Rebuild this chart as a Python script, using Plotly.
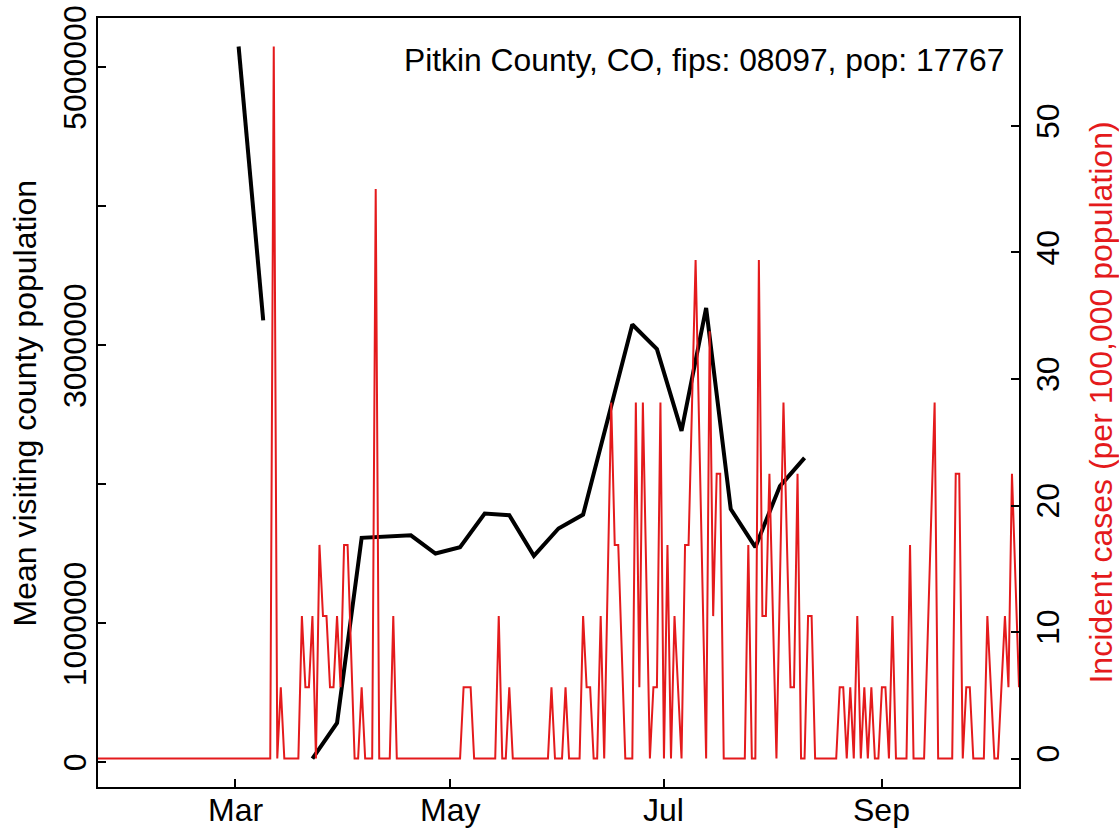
import pandas as pd
import plotly.graph_objects as go

# ---------------- data ----------------
county_label = "Pitkin County, CO, fips: 08097, pop: 17767"
population = 17767

# daily incident case counts, 2020-01-22 .. 2020-10-10 (None = day not reported)
cases_jan = [0] * 10
cases_feb = [0] * 29
cases_mar = [0, 0, 0, 0, 0, 0, 0, 0, 0, 0, 0, 10, 0, 1, 0, 0, 0, 0, 0, 2,
             1, 1, 2, 0, 3, 2, 2, 1, 1, 2, 1]
cases_apr = [3, 3, None, 0, 0, 1, 0, 0, 0, 8, 0, 0, 0, 0, 2, 0, 0, 0, 0, 0,
             0, 0, 0, 0, 0, 0, 0, 0, 0, 0]
cases_may = [0, 0, 0, 0, 1, 1, 1, 0, 0, 0, 0, 0, 0, 0, 2, 0, 0, 1, 0, 0,
             0, 0, 0, 0, 0, 0, 0, 0, 0, 1, 0]
cases_jun = [0, 0, 1, 0, 0, 0, 0, 2, 1, 1, 0, 0, 2, 0, None, 5, 3, 3, None, 0,
             0, 0, 5, 1, 5, None, 0, 1, 1, 5]
cases_jul = [0, 3, 0, 2, 1, 0, 3, 3, 5, 7, None, None, 0, 6, 2, 4, 4, 0, 0, 0,
             0, 0, 0, 0, 3, 0, 0, 7, 2, 2, 4]
cases_aug = [2, 0, None, 5, 3, 1, 1, 4, 0, 0, 2, 2, 0, 0, 0, 0, 0, 0, 0, 1,
             1, 0, 1, 0, 2, 0, 1, 0, 1, 0, 0]
cases_sep = [1, 1, 0, 2, 0, 0, 0, 0, 3, 0, 0, 0, 0, None, None, 5, 0, 0, 0, 0,
             0, 4, 4, 0, 1, 1, 0, 0, 0, 0]
cases_oct = [2, 1, 0, 0, 1, 2, 1, 4, None, 1]

# weekly mean visiting county population
visit_dates = ["2020-03-02", "2020-03-09", "2020-03-16", "2020-03-23", "2020-03-30",
               "2020-04-06", "2020-04-20", "2020-04-27", "2020-05-04", "2020-05-11",
               "2020-05-18", "2020-05-25", "2020-06-01", "2020-06-08", "2020-06-22",
               "2020-06-29", "2020-07-06", "2020-07-13", "2020-07-20", "2020-07-27",
               "2020-08-03", "2020-08-10"]
visit_pop = [5147000, 3178000, None, 27000, 283000,
             1614000, 1632000, 1501000, 1547000, 1789000,
             1777000, 1484000, 1681000, 1781000, 3148000,
             2971000, 2383000, 3267000, 1820000, 1547000,
             1986000, 2189000]

x_ticks = ["2020-03-01", "2020-05-01", "2020-07-01", "2020-09-01"]
x_tick_text = ["Mar", "May", "Jul", "Sep"]
left_ticks = [0, 1000000, 2000000, 3000000, 4000000, 5000000]
left_tick_text = ["0", "1000000", "", "3000000", "", "5000000"]
right_ticks = [0, 10, 20, 30, 40, 50]

# ---------------- build ----------------
cases = (cases_jan + cases_feb + cases_mar + cases_apr + cases_may + cases_jun
         + cases_jul + cases_aug + cases_sep + cases_oct)
case_dates = pd.date_range("2020-01-22", periods=len(cases), freq="D")
incidence = [None if c is None else c * 1e5 / population for c in cases]

RED = "#E41A1C"
FONT = "Liberation Sans, Arial, Helvetica, sans-serif"
FS = 32


def padded(lo, hi, f=0.04):
    r = hi - lo
    return [lo - f * r, hi + f * r]


vp = [v for v in visit_pop if v is not None]
inc = [v for v in incidence if v is not None]

fig = go.Figure()
fig.add_trace(go.Scatter(x=visit_dates, y=visit_pop, mode="lines",
                         line=dict(color="black", width=4), connectgaps=False,
                         yaxis="y", showlegend=False))
fig.add_trace(go.Scatter(x=case_dates, y=incidence, mode="lines",
                         line=dict(color=RED, width=2), connectgaps=True,
                         yaxis="y2", showlegend=False))

axis_common = dict(showgrid=False, zeroline=False, showline=True, linecolor="black",
                   linewidth=2, ticks="inside", ticklen=8, tickwidth=2,
                   tickcolor="black", automargin=False,
                   tickfont=dict(family=FONT, size=FS, color="black"))

tick_font = dict(family=FONT, size=FS, color="black")
annotations = [
    dict(text=county_label, xref="paper", yref="paper", x=0.9858, y=0.9457,
         xanchor="right", yanchor="middle", showarrow=False,
         font=dict(family=FONT, size=31.8, color="black")),
    dict(text="Mean visiting county population", xref="paper", yref="paper",
         x=-0.0793, y=0.5, xanchor="center", yanchor="middle", textangle=-90,
         showarrow=False, font=tick_font),
    dict(text="Incident cases (per 100,000 population)", xref="paper", yref="paper",
         x=1.088, y=0.5, xanchor="center", yanchor="middle", textangle=-90,
         showarrow=False, font=dict(family=FONT, size=FS, color=RED)),
]
# x tick labels (placed just below the axis like R's mgp line 1)
for tv, tt in zip(x_ticks, x_tick_text):
    annotations.append(dict(text=tt, xref="x", yref="paper", x=tv, y=-0.0303,
                            xanchor="center", yanchor="middle", showarrow=False,
                            font=tick_font))
# left y tick labels (rotated, parallel to axis)
for tv, tt in zip(left_ticks, left_tick_text):
    if tt:
        annotations.append(dict(text=tt, xref="paper", yref="y", x=-0.025, y=tv,
                                xanchor="center", yanchor="middle", textangle=-90,
                                showarrow=False, font=tick_font))

fig.update_layout(
    template="none",
    width=1119, height=830,
    margin=dict(l=98, r=100, t=18, b=43, pad=0, autoexpand=False),
    paper_bgcolor="white", plot_bgcolor="white",
    font=dict(family=FONT, size=FS, color="black"),
    xaxis=dict(type="date", range=["2020-01-22", "2020-10-10"],
               tickvals=x_ticks, showticklabels=False, mirror=True, **axis_common),
    yaxis=dict(range=padded(min(vp), max(vp)), tickvals=left_ticks,
               showticklabels=False, **axis_common),
    yaxis2=dict(range=padded(0, max(inc)), tickvals=right_ticks, overlaying="y",
                side="right", tickangle=-90, **axis_common),
    annotations=annotations,
)

fig.write_html("out.html", config={"displayModeBar": False},
               post_script="document.body.style.margin='0';")
